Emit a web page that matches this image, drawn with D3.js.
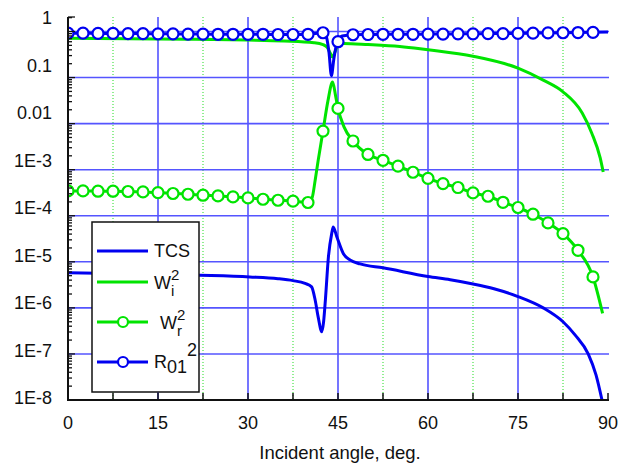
<!DOCTYPE html>
<html>
<head>
<meta charset="utf-8">
<script src="https://cdn.jsdelivr.net/npm/d3@7"></script>
<style>
  body { margin: 0; background: #fff; }
  text { font-family: "Liberation Sans", Arial, sans-serif; fill: #111; }
</style>
</head>
<body>
<div id="chart"></div>
<script>
// x tick labels (deg)
var xTicks = [0, 15, 30, 45, 60, 75, 90];
var yTickLabels = ["1E-8", "1E-7", "1E-6", "1E-5", "1E-4", "1E-3", "0.01", "0.1", "1"];

// angles with markers (every 2.5 deg)
var markerAngle = [0, 2.5, 5, 7.5, 10, 12.5, 15, 17.5, 20, 22.5, 25, 27.5, 30, 32.5, 35, 37.5,
  40, 42.5, 45, 47.5, 50, 52.5, 55, 57.5, 60, 62.5, 65, 67.5, 70, 72.5, 75, 77.5, 80, 82.5, 85, 87.5];

// R01^2 at marker angles + extra points of the line
var r01Value = [0.92, 0.92, 0.91, 0.91, 0.90, 0.90, 0.89, 0.89, 0.88, 0.88, 0.87, 0.87, 0.87, 0.87, 0.86, 0.86,
  0.87, 0.94, 0.60, 0.85, 0.86, 0.87, 0.87, 0.87, 0.88, 0.88, 0.89, 0.89, 0.90, 0.90, 0.91, 0.92, 0.93, 0.94, 0.95, 0.96];
var r01ExtraAngle = [43.0, 43.5, 43.9, 44.3, 44.7, 45.7, 90];
var r01ExtraValue = [0.82, 0.35, 0.11, 0.25, 0.48, 0.80, 0.97];

// Wr^2 at marker angles + extra points of the line
var wrValue = [3.46e-4, 3.46e-4, 3.41e-4, 3.41e-4, 3.36e-4, 3.29e-4, 3.19e-4, 3.04e-4, 2.93e-4, 2.79e-4,
  2.69e-4, 2.56e-4, 2.44e-4, 2.28e-4, 2.17e-4, 2.07e-4, 1.94e-4, 6.9e-3, 0.0214, 4.2e-3, 2.14e-3, 1.6e-3,
  1.19e-3, 8.8e-4, 6.5e-4, 5.0e-4, 4.1e-4, 3.13e-4, 2.65e-4, 1.96e-4, 1.51e-4, 1.08e-4, 7.0e-5, 4.1e-5, 1.78e-5, 4.7e-6];
var wrExtraAngle = [40.7, 41.2, 41.7, 43.3, 44.1, 44.6, 46, 89.1];
var wrExtraValue = [2.5e-4, 6e-4, 1.6e-3, 0.03, 0.08, 0.04, 8.5e-3, 7.6e-7];

// Wi^2 (line only)
var wiAngle = [0, 10, 20, 30, 36, 41, 42.5, 43.2, 43.7, 44.1, 44.5, 45, 45.9, 50, 55.3, 58.7, 60,
  67.5, 75, 79.2, 82.5, 85.7, 87.3, 88.7, 89.2];
var wiValue = [0.71, 0.70, 0.68, 0.65, 0.62, 0.57, 0.52, 0.45, 0.34, 0.28, 0.36, 0.50, 0.55, 0.52, 0.47, 0.42, 0.40,
  0.29, 0.16, 0.088, 0.049, 0.017, 6.2e-3, 1.8e-3, 8.9e-4];

// TCS (line only)
var tcsAngle = [0, 10, 22, 30.3, 35, 37.5, 39.5, 40.6, 41.2, 41.7, 42.3, 42.6, 42.9, 43.4, 43.95, 44.2, 44.8,
  45.9, 47, 48.7, 52.5, 60, 63.7, 67.5, 71, 75, 79.2, 82.5, 84.5, 86.7, 88, 89];
var tcsValue = [5.8e-6, 5.5e-6, 5.1e-6, 4.7e-6, 4.3e-6, 3.9e-6, 3.4e-6, 2.86e-6, 1.46e-6, 6.3e-7, 3.05e-7, 5e-7, 1.5e-6,
  1.27e-5, 4.1e-5, 5.7e-5, 3.5e-5, 1.5e-5, 1.1e-5, 9.0e-6, 7.4e-6, 4.8e-6, 4.07e-6, 3.3e-6, 2.6e-6, 1.76e-6,
  1.0e-6, 5.0e-7, 2.6e-7, 1.0e-7, 3.5e-8, 1e-8];

var BLUE = "#0000f0",
  GREEN = "#00e400";

var width = 619,
  height = 466,
  plot = { left: 68, right: 608, top: 17, bottom: 400 };

function zip(a, v) {
  return a.map(function (d, i) { return [d, v[i]]; });
}

function merged(a, v, ea, ev) {
  return zip(a, v).concat(zip(ea, ev)).sort(function (p, q) { return p[0] - q[0]; });
}

var x = d3.scaleLinear().domain([0, 90]).range([plot.left, plot.right]);
// decades sit at 46px each, 1 at y=31.5
var y = d3.scaleLog().domain([1e-8, 1]).range([plot.bottom, 31.5]);
// tick labels are spread evenly over the full axis height
var yLabel = d3.scaleLog().domain([1e-8, 1]).range([398, 17.5]);

var svg = d3.select("#chart").append("svg")
  .attr("width", width)
  .attr("height", height);

svg.append("defs").append("clipPath").attr("id", "plot-clip")
  .append("rect")
  .attr("x", plot.left)
  .attr("y", plot.top)
  .attr("width", plot.right - plot.left + 2)
  .attr("height", plot.bottom - plot.top);

// grid
var grid = svg.append("g").attr("class", "grid");

grid.selectAll("line.vminor")
  .data([7.5, 22.5, 37.5, 52.5, 67.5, 82.5])
  .enter().append("line")
  .attr("x1", d => x(d)).attr("x2", d => x(d))
  .attr("y1", plot.top).attr("y2", plot.bottom)
  .attr("stroke", "#22dd22")
  .attr("stroke-width", 1)
  .attr("stroke-dasharray", "1,2");

grid.selectAll("line.vmajor")
  .data([15, 30, 45, 60, 75])
  .enter().append("line")
  .attr("x1", d => x(d)).attr("x2", d => x(d))
  .attr("y1", plot.top).attr("y2", plot.bottom)
  .attr("stroke", "#1a1aff")
  .attr("stroke-width", 1.2);

grid.selectAll("line.h")
  .data([1e-7, 1e-6, 1e-5, 1e-4, 1e-3, 1e-2, 1e-1, 1])
  .enter().append("line")
  .attr("x1", plot.left).attr("x2", plot.right + 1)
  .attr("y1", d => y(d)).attr("y2", d => y(d))
  .attr("stroke", "#5555ff")
  .attr("stroke-width", 1.6);

// series
var series = svg.append("g").attr("clip-path", "url(#plot-clip)");

var line = d3.line()
  .x(d => x(d[0]))
  .y(d => y(d[1]))
  .curve(d3.curveMonotoneX);

series.append("path")
  .datum(zip(tcsAngle, tcsValue))
  .attr("d", line)
  .attr("fill", "none")
  .attr("stroke", BLUE)
  .attr("stroke-width", 3);

series.append("path")
  .datum(zip(wiAngle, wiValue))
  .attr("d", line)
  .attr("fill", "none")
  .attr("stroke", GREEN)
  .attr("stroke-width", 3);

series.append("path")
  .datum(merged(markerAngle, wrValue, wrExtraAngle, wrExtraValue))
  .attr("d", line)
  .attr("fill", "none")
  .attr("stroke", GREEN)
  .attr("stroke-width", 3);

series.selectAll("circle.wr")
  .data(zip(markerAngle, wrValue))
  .enter().append("circle")
  .attr("cx", d => x(d[0]))
  .attr("cy", d => y(d[1]))
  .attr("r", 5.5)
  .attr("fill", "#fff")
  .attr("stroke", GREEN)
  .attr("stroke-width", 2.2);

series.append("path")
  .datum(merged(markerAngle, r01Value, r01ExtraAngle, r01ExtraValue))
  .attr("d", line)
  .attr("fill", "none")
  .attr("stroke", BLUE)
  .attr("stroke-width", 3);

series.selectAll("circle.r01")
  .data(zip(markerAngle, r01Value))
  .enter().append("circle")
  .attr("cx", d => x(d[0]))
  .attr("cy", d => y(d[1]))
  .attr("r", 5.5)
  .attr("fill", "#fff")
  .attr("stroke", BLUE)
  .attr("stroke-width", 2.2);

// axes
var axes = svg.append("g").attr("class", "axes");

var minorTicks = [];
for (var e = -8; e <= 0; e++) {
  for (var k = 1; k <= 9; k++) {
    var v = k * Math.pow(10, e);
    if (y(v) >= plot.top - 0.5) minorTicks.push({ v: v, major: k === 1 });
  }
}
minorTicks.push({ v: y.invert(plot.top), major: true });

axes.selectAll("line.ytick")
  .data(minorTicks)
  .enter().append("line")
  .attr("x1", plot.left)
  .attr("x2", d => plot.left + (d.major ? 7 : 4))
  .attr("y1", d => y(d.v)).attr("y2", d => y(d.v))
  .attr("stroke", "#111")
  .attr("stroke-width", 1.3);

axes.selectAll("line.xtick")
  .data([0, 7.5, 15, 22.5, 30, 37.5, 45, 52.5, 60, 67.5, 75, 82.5, 90])
  .enter().append("line")
  .attr("x1", d => x(d)).attr("x2", d => x(d))
  .attr("y1", plot.bottom).attr("y2", plot.bottom - 7)
  .attr("stroke", "#111")
  .attr("stroke-width", 1.5);

axes.append("line")
  .attr("x1", plot.left).attr("x2", plot.left)
  .attr("y1", plot.top).attr("y2", plot.bottom + 1)
  .attr("stroke", "#111").attr("stroke-width", 2);

axes.append("line")
  .attr("x1", plot.left - 1).attr("x2", plot.right + 1)
  .attr("y1", plot.bottom).attr("y2", plot.bottom)
  .attr("stroke", "#111").attr("stroke-width", 2);

axes.selectAll("text.ylab")
  .data(yTickLabels)
  .enter().append("text")
  .attr("x", 52)
  .attr("y", (d, i) => yLabel(Math.pow(10, i - 8)))
  .attr("dy", "0.36em")
  .attr("text-anchor", "end")
  .attr("font-size", 18)
  .text(d => d);

axes.selectAll("text.xlab")
  .data(xTicks)
  .enter().append("text")
  .attr("x", d => x(d))
  .attr("y", 429)
  .attr("text-anchor", "middle")
  .attr("font-size", 18)
  .text(d => d);

axes.append("text")
  .attr("x", 340)
  .attr("y", 459)
  .attr("text-anchor", "middle")
  .attr("font-size", 18.5)
  .text("Incident angle, deg.");

// legend
var legend = svg.append("g").attr("class", "legend");

legend.append("rect")
  .attr("x", 92).attr("y", 222)
  .attr("width", 107).attr("height", 170)
  .attr("fill", "#fff")
  .attr("stroke", "#111")
  .attr("stroke-width", 1.5);

var legendItems = [
  { y: 251, color: BLUE, marker: false },
  { y: 282, color: GREEN, marker: false },
  { y: 322, color: GREEN, marker: true },
  { y: 362, color: BLUE, marker: true }
];

legendItems.forEach(function (d) {
  legend.append("line")
    .attr("x1", 97).attr("x2", 148)
    .attr("y1", d.y).attr("y2", d.y)
    .attr("stroke", d.color)
    .attr("stroke-width", 3);
  if (d.marker) {
    legend.append("circle")
      .attr("cx", 123).attr("cy", d.y).attr("r", 5)
      .attr("fill", "#fff")
      .attr("stroke", d.color)
      .attr("stroke-width", 2.2);
  }
});

legend.append("text")
  .attr("x", 154).attr("y", 257)
  .attr("font-size", 18)
  .text("TCS");

// W with subscript and superscript stacked above each other
function stacked(xPos, yPos, sub) {
  legend.append("text").attr("x", xPos).attr("y", yPos).attr("font-size", 18).text("W");
  legend.append("text").attr("x", xPos + 17).attr("y", yPos + 7).attr("font-size", 15).text(sub);
  legend.append("text").attr("x", xPos + 17).attr("y", yPos - 9).attr("font-size", 15).text("2");
}
stacked(154, 289, "i");
stacked(160, 329, "r");

var r = legend.append("text").attr("x", 154).attr("y", 368).attr("font-size", 18);
r.append("tspan").text("R");
r.append("tspan").attr("dy", 5).text("01");
r.append("tspan").attr("dy", -17).text("2");
</script>
</body>
</html>
